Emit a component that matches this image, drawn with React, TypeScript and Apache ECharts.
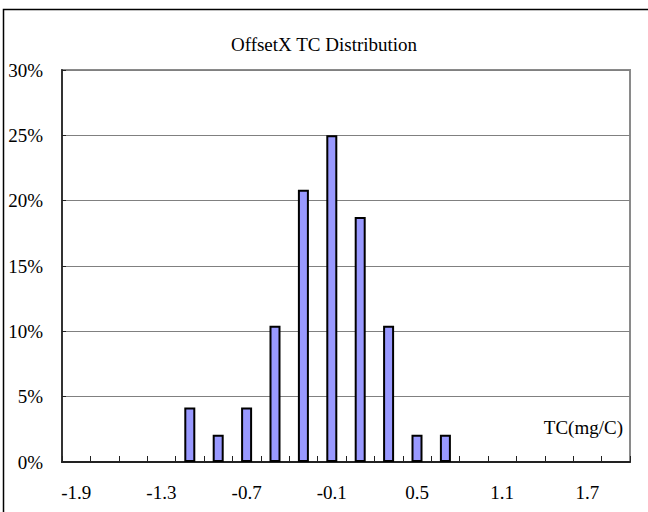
import React, { useEffect, useRef } from "react";
import * as echarts from "echarts";

const categories = [
  "-1.9", "-1.7", "-1.5", "-1.3", "-1.1", "-0.9", "-0.7", "-0.5", "-0.3", "-0.1",
  "0.1", "0.3", "0.5", "0.7", "0.9", "1.1", "1.3", "1.5", "1.7", "1.9",
];
const percentValues = [
  0, 0, 0, 0, 4.17, 2.08, 4.17, 10.42, 20.83, 25,
  18.75, 10.42, 2.08, 2.08, 0, 0, 0, 0, 0, 0,
];
const titleText = "OffsetX TC Distribution";
const axisName = "TC(mg/C)";

const FONT = "'Liberation Serif', 'Times New Roman', serif";
const FS = 19;

export default function App() {
  const ref = useRef<HTMLDivElement>(null);
  useEffect(() => {
    if (!ref.current) return;
    const chart = echarts.init(ref.current, null, { renderer: "svg" });
    chart.setOption({
      animation: false,
      backgroundColor: "#ffffff",
      title: {
        text: titleText,
        left: 319,
        top: 30,
        textAlign: "center",
        textStyle: { fontFamily: FONT, fontSize: FS, fontWeight: "normal", color: "#000" },
      },
      graphic: [
        {
          type: "rect",
          shape: { x: 3.5, y: 9.5, width: 800, height: 700 },
          style: { fill: "none", stroke: "#000", lineWidth: 1.5 },
          silent: true,
          z: 100,
        },
      ],
      grid: {
        left: 62,
        top: 70,
        right: 18,
        bottom: 50,
        show: true,
        borderColor: "#8a8a8a",
        borderWidth: 2,
        backgroundColor: "transparent",
      },
      xAxis: {
        type: "category",
        data: categories,
        boundaryGap: true,
        name: axisName,
        nameLocation: "end",
        nameGap: -7,
        nameTextStyle: {
          fontFamily: FONT,
          fontSize: FS,
          color: "#000",
          align: "right",
          verticalAlign: "bottom",
          padding: [0, 0, 25, 0],
        },
        axisLine: { show: true, lineStyle: { color: "#222", width: 2 } },
        axisTick: { show: true, inside: true, length: 6, interval: 0, lineStyle: { color: "#222", width: 1 } },
        axisLabel: { interval: 2, margin: 21, fontFamily: FONT, fontSize: FS, color: "#000" },
        splitLine: { show: false },
      },
      yAxis: {
        type: "value",
        min: 0,
        max: 30,
        interval: 5,
        axisLine: { show: true, lineStyle: { color: "#333", width: 2 } },
        axisTick: { show: true, inside: true, length: 4, lineStyle: { color: "#222", width: 1 } },
        axisLabel: { formatter: "{value}%", margin: 19, fontFamily: FONT, fontSize: FS, color: "#000" },
        splitLine: { show: true, lineStyle: { color: "#808080", width: 1 } },
      },
      series: [
        {
          type: "bar",
          data: percentValues.map((v) => (v === 0 ? "-" : v)),
          barWidth: 11,
          itemStyle: { color: "#9999ff", borderColor: "#000", borderWidth: 2 },
        },
      ],
    });
    return () => chart.dispose();
  }, []);
  return (
    <div
      ref={ref}
      style={{ position: "fixed", left: 0, top: 0, width: 648, height: 512 }}
    />
  );
}
